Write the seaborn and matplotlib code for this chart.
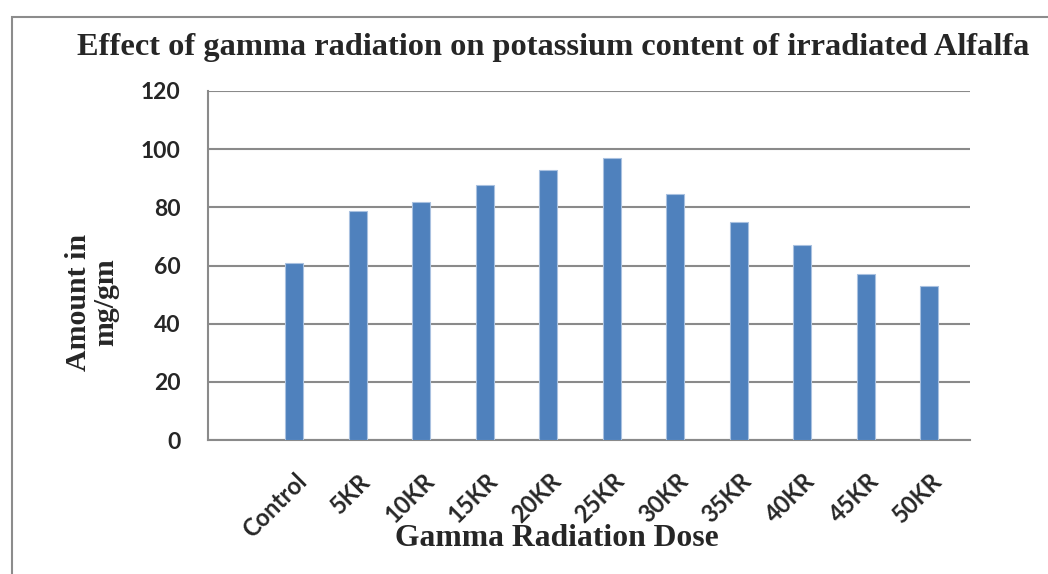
import numpy as np
import pandas as pd
import matplotlib
matplotlib.use("Agg")
import matplotlib.pyplot as plt
import matplotlib.patches as mpatches
import seaborn as sns

categories = ["", "Control", "5KR", "10KR", "15KR", "20KR", "25KR", "30KR", "35KR", "40KR", "45KR", "50KR"]
potassium = [0, 60.8, 78.6, 82.0, 87.8, 93.0, 97.0, 84.5, 75.0, 67.0, 57.0, 52.8]
empty_series = [0] * len(categories)
yticks = [0, 20, 40, 60, 80, 100, 120]

title = "Effect of gamma radiation on potassium content of irradiated Alfalfa"
xlabel = "Gamma Radiation Dose"
ylabel = "Amount in\nmg/gm"

df = pd.DataFrame({
    "dose": categories * 2,
    "value": potassium + empty_series,
    "series": ["Potassium"] * len(categories) + ["Blank"] * len(categories),
})

sns.set_style("white")
fig = plt.figure(figsize=(10.48, 5.74), dpi=100)
ax = fig.add_axes([0.1985, 0.2334, 0.7271, 0.6081])

sns.barplot(data=df, x="dose", y="value", hue="series", order=categories,
            hue_order=["Potassium", "Blank"],
            palette={"Potassium": "#4F81BD", "Blank": "#C0504D"},
            saturation=1, width=0.56, dodge=True, legend=False, errorbar=None,
            linewidth=0.8, edgecolor="#A9C1E0", ax=ax, zorder=3)
for p in ax.patches:
    if p.get_height() == 0:
        p.set_visible(False)

grid_c = "#8A8A8A"
ax.set_xlim(-0.5, len(categories) - 0.5)
ax.set_ylim(0, 120)
ax.set_yticks(yticks)
ax.yaxis.grid(True, color=grid_c, linewidth=1.5, zorder=0)
ax.set_axisbelow(True)

# major ticks at category boundaries, labels at centers (minor)
ax.set_xticks(np.arange(-0.5, len(categories), 1.0))
ax.set_xticklabels([])
ax.set_xticks(np.arange(len(categories)), minor=True)
ax.set_xticklabels(categories, minor=True, rotation=45, ha="right",
                   va="center", rotation_mode="anchor",
                   fontfamily="Lato", fontweight="bold", fontsize=17)
ax.tick_params(axis="x", which="major", direction="out", length=7, width=1.5, color=grid_c)
ax.tick_params(axis="x", which="minor", length=0, pad=27)
ax.tick_params(axis="y", direction="out", length=8, width=1.5, color=grid_c, pad=12)
for lab in ax.get_yticklabels():
    lab.set_fontfamily("Lato")
    lab.set_fontweight("bold")
    lab.set_fontsize(16.5)

for s in ["top", "right"]:
    ax.spines[s].set_visible(False)
for s in ["left", "bottom"]:
    ax.spines[s].set_color(grid_c)
    ax.spines[s].set_linewidth(1.5)

ax.set_xlabel("")
ax.set_ylabel("")
fig.text(557 / 1048, 1 - 538 / 574, xlabel, ha="center", va="center",
         fontfamily="Liberation Serif", fontweight="bold", fontsize=22.8)
fig.text(92 / 1048, 1 - 302 / 574, ylabel, ha="center", va="center", rotation=90,
         multialignment="center", linespacing=1.0,
         fontfamily="Liberation Serif", fontweight="bold", fontsize=21.5)
fig.text(553 / 1048, 1 - 48 / 574, title, ha="center", va="center",
         fontfamily="Liberation Serif", fontweight="bold", fontsize=23.3)

frame = mpatches.Rectangle((12 / 1048, -0.2), 1.2, 1.2 + (1 - 17 / 574) - 1.0,
                           transform=fig.transFigure, fill=False,
                           edgecolor="#8C8C8C", linewidth=1.5, clip_on=False)
fig.patches.append(frame)

fig.savefig("out.png", dpi=100)
